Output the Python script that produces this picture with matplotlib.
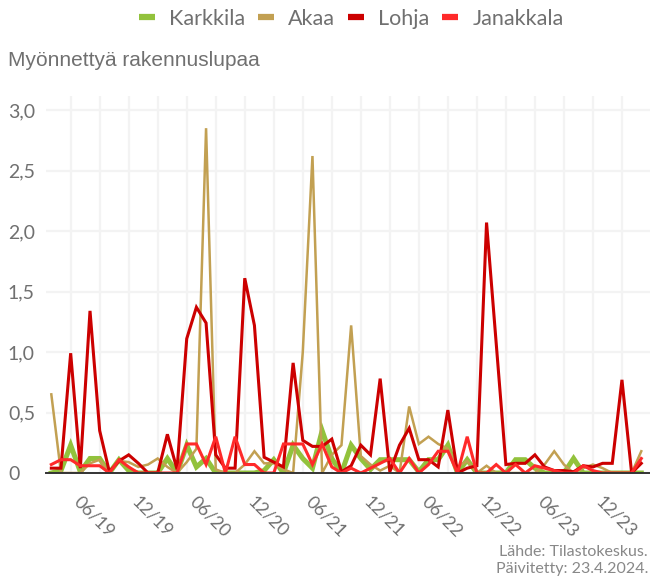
import matplotlib
matplotlib.use("Agg")
import matplotlib.pyplot as plt
from matplotlib.lines import Line2D
import numpy as np

# ---- data ----
months = []
for y in range(2019, 2025):
    for m in range(1, 13):
        months.append(f"{m:02d}/{str(y)[2:]}")
months = months[3:3 + 62]  # 04/19 .. 05/24

karkkila = [0.0, 0.02, 0.23, 0.01, 0.12, 0.12, 0.0, 0.11, 0.02, 0.0,
            0.0, 0.0, 0.12, 0.0, 0.23, 0.05, 0.12, 0.0, 0.0, 0.0,
            0.0, 0.0, 0.02, 0.11, 0.0, 0.23, 0.12, 0.04, 0.35, 0.12,
            0.0, 0.23, 0.12, 0.03, 0.11, 0.11, 0.11, 0.11, 0.01, 0.11,
            0.11, 0.23, 0.0, 0.11, 0.0, 0.0, 0.0, 0.0, 0.11, 0.11,
            0.04, 0.0, 0.0, 0.0, 0.12, 0.0, 0.0, 0.0, 0.0, 0.0,
            0.0, 0.0]
akaa = [0.65, 0.0, 0.0, 0.0, 0.08, 0.11, 0.0, 0.1, 0.09, 0.05,
        0.07, 0.12, 0.05, 0.0, 0.09, 0.2, 2.85, 0.03, 0.0, 0.0,
        0.07, 0.18, 0.08, 0.08, 0.03, 0.0, 1.0, 2.62, 0.0, 0.15,
        0.23, 1.22, 0.14, 0.07, 0.02, 0.06, 0.0, 0.55, 0.24, 0.3,
        0.24, 0.2, 0.05, 0.1, 0.0, 0.06, 0.0, 0.0, 0.0, 0.0,
        0.0, 0.07, 0.18, 0.07, 0.0, 0.04, 0.07, 0.04, 0.0, 0.0,
        0.0, 0.18]
lohja = [0.04, 0.04, 0.99, 0.04, 1.34, 0.35, 0.01, 0.1, 0.15, 0.08,
         0.0, 0.0, 0.32, 0.03, 1.11, 1.37, 1.24, 0.15, 0.04, 0.04,
         1.61, 1.22, 0.13, 0.09, 0.05, 0.91, 0.27, 0.22, 0.22, 0.28,
         0.01, 0.06, 0.23, 0.15, 0.78, 0.01, 0.23, 0.37, 0.11, 0.11,
         0.05, 0.52, 0.0, 0.04, 0.06, 2.07, 1.07, 0.07, 0.08, 0.08,
         0.15, 0.05, 0.02, 0.02, 0.01, 0.06, 0.05, 0.08, 0.08, 0.77,
         0.0, 0.08]
janakkala = [0.07, 0.11, 0.11, 0.06, 0.06, 0.06, 0.0, 0.11, 0.05, 0.0,
             0.0, 0.0, 0.0, 0.0, 0.24, 0.24, 0.07, 0.3, 0.0, 0.3,
             0.07, 0.07, 0.0, 0.0, 0.24, 0.24, 0.24, 0.07, 0.24, 0.05,
             0.0, 0.04, 0.0, 0.04, 0.08, 0.12, 0.0, 0.12, 0.0, 0.07,
             0.18, 0.18, 0.0, 0.3, 0.0, 0.0, 0.07, 0.0, 0.07, 0.0,
             0.06, 0.04, 0.02, 0.0, 0.0, 0.06, 0.02, 0.0, 0.0, 0.0,
             0.0, 0.12]

series_names = ["Karkkila", "Akaa", "Lohja", "Janakkala"]
series_values = [karkkila, akaa, lohja, janakkala]
colors = ["#92c23c", "#c2a052", "#cc0000", "#ff2a2a"]
widths = [3.6, 1.8, 2.2, 2.2]

yticks = [0, 0.5, 1.0, 1.5, 2.0, 2.5, 3.0]
ytick_labels = ["0", "0,5", "1,0", "1,5", "2,0", "2,5", "3,0"]

W, H = 650, 578
fig = plt.figure(figsize=(W / 100, H / 100), dpi=100)
L, R, T, B = 46, 650, 96, 473
ax = fig.add_axes([L / W, 1 - B / H, (R - L) / W, (B - T) / H])

x = np.arange(len(months))
for name, vals, c, lw in zip(series_names, series_values, colors, widths):
    ax.plot(x, vals, color=c, lw=lw, solid_joinstyle="miter", label=name, zorder=3)

ax.set_xlim(-0.55, 61.9)
ax.set_ylim(0, 3.116)

font = dict(family="Lato", weight="normal")
grey = "#707070"

# x ticks every 3 months, labels every 6
xt = list(range(2, len(months), 3))
ax.set_xticks(xt)
ax.set_xticklabels([months[i] if (i - 2) % 6 == 0 else "" for i in xt],
                   rotation=-45, ha="left", va="top", color=grey,
                   fontsize=13, **font)
ax.tick_params(axis="x", length=0, pad=15)

ax.set_yticks(yticks)
ax.set_yticklabels(ytick_labels, color=grey, fontsize=14, ha="left", **font)
ax.tick_params(axis="y", length=0, pad=27.4)

ax.grid(True, color="#f3f3f3", lw=1.6)
ax.set_axisbelow(True)
for s in ["top", "right", "left"]:
    ax.spines[s].set_visible(False)
ax.spines["bottom"].set_color("#333333")
ax.spines["bottom"].set_linewidth(1.4)
ax.spines["bottom"].set_zorder(4)

fig.text(8 / W, 1 - 60 / H, "Myönnettyä rakennuslupaa", color=grey,
         fontsize=15, family="Liberation Sans", va="center", ha="left")

handles = [Line2D([0], [0], color=c, lw=4.5, solid_capstyle="butt") for c in colors]
leg = fig.legend(handles, series_names, loc="center", ncol=4,
                 bbox_to_anchor=(351 / W, 1 - 19 / H), frameon=False,
                 handlelength=0.75, handletextpad=0.65, columnspacing=0.6,
                 prop=dict(family="Lato", weight="normal", size=15.5))
for t in leg.get_texts():
    t.set_color(grey)

fig.text(648 / W, 1 - 552 / H, "Lähde: Tilastokeskus.", color="#888888",
         fontsize=11.5, ha="right", va="center", **font)
fig.text(648 / W, 1 - 569 / H, "Päivitetty: 23.4.2024.", color="#888888",
         fontsize=11.5, ha="right", va="center", **font)

fig.savefig("out.png", dpi=100)
